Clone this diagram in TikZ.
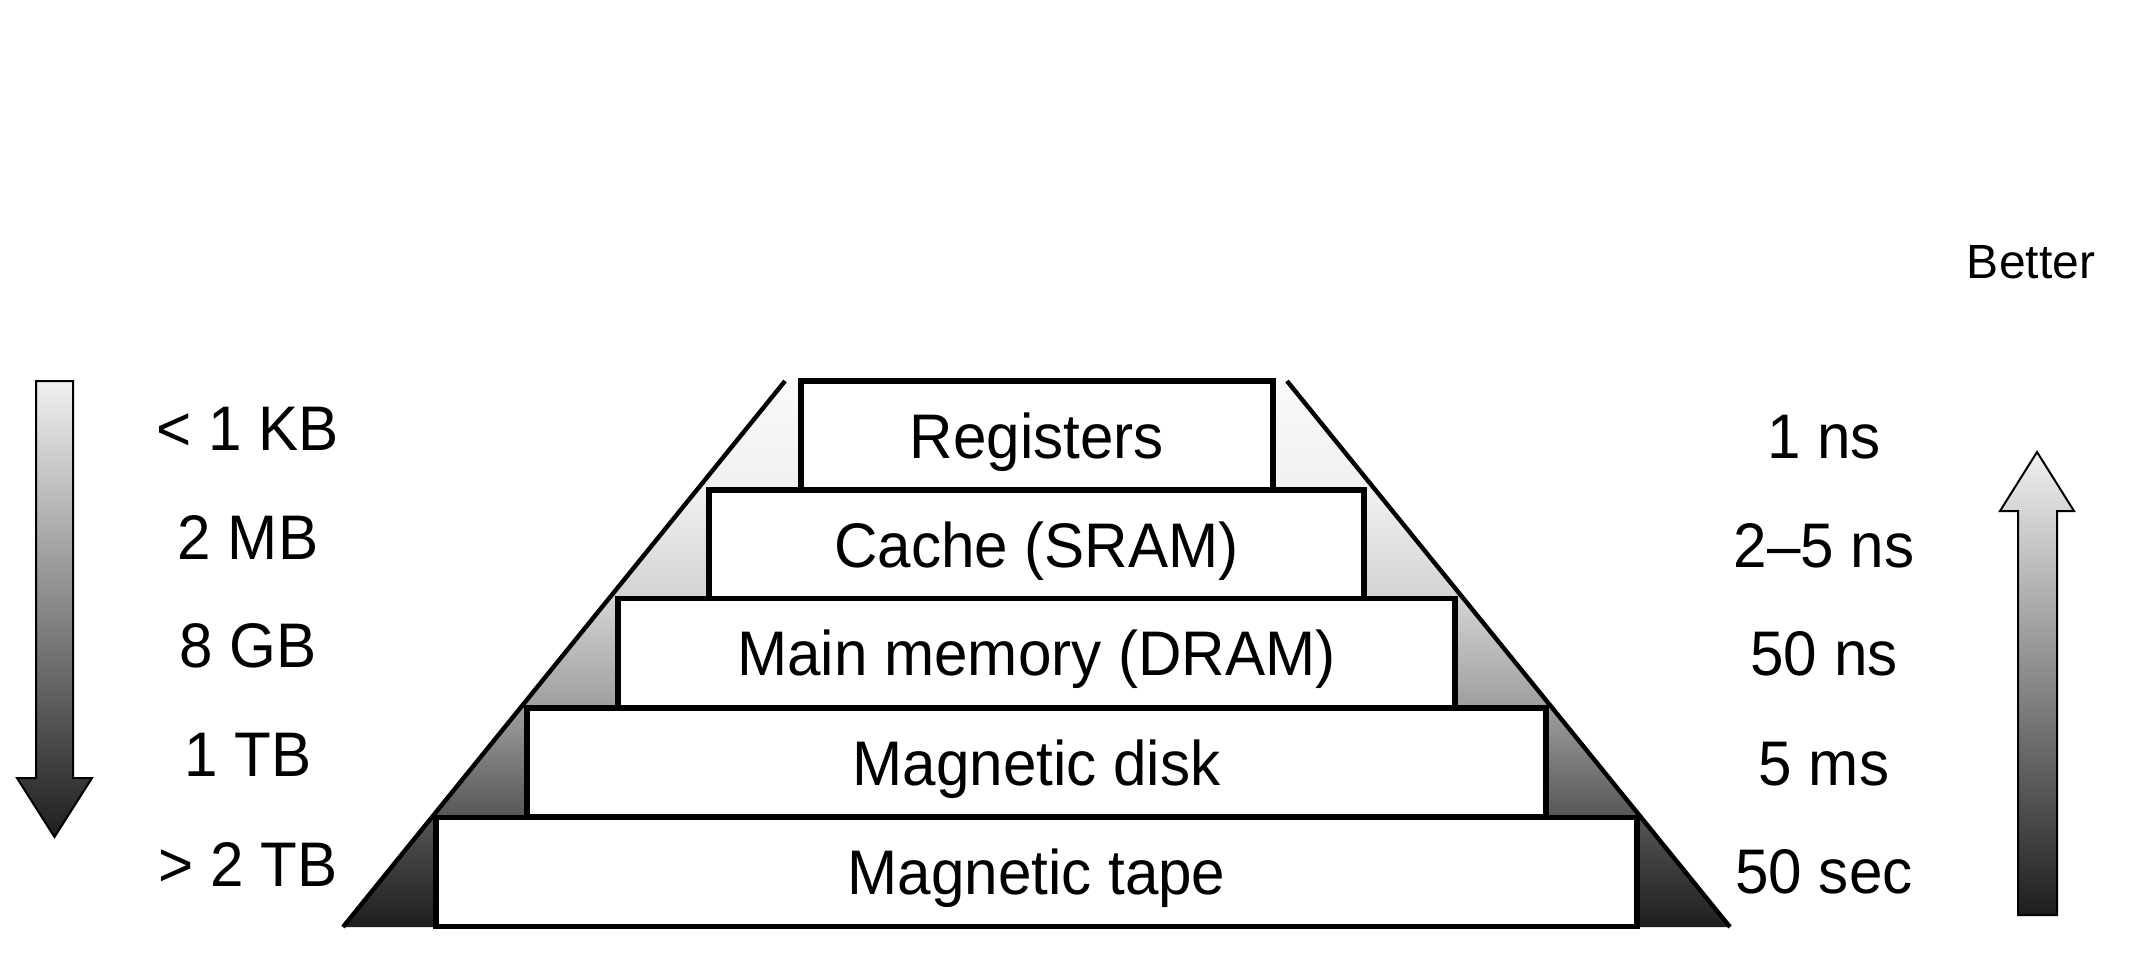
\documentclass[tikz,border=0pt]{standalone}
\usepackage{fontspec}
\setmainfont{Liberation Sans}[FakeStretch=0.955]
\newfontfamily\plainsans{Liberation Sans}
\definecolor{s0}{RGB}{250,250,250}
\definecolor{s20}{RGB}{240,240,240}
\definecolor{s40}{RGB}{210,210,210}
\definecolor{s60}{RGB}{158,158,158}
\definecolor{s80}{RGB}{85,85,85}
\definecolor{s100}{RGB}{30,30,30}
\definecolor{arTop}{RGB}{240,240,240}
\definecolor{arBot}{RGB}{30,30,30}
\pgfdeclareverticalshading{trapshade}{100bp}{color(0bp)=(s100); color(25bp)=(s100); color(35bp)=(s80); color(45bp)=(s60); color(55bp)=(s40); color(65bp)=(s20); color(75bp)=(s0); color(100bp)=(s0)}
\tikzset{
  tier/.style={draw=black, line width=2.7pt, fill=white, inner sep=0pt,
    font=\fontsize{31.5}{36}\selectfont, text height=22.6pt, text depth=0pt,
    minimum height=54.5pt},
  lbl/.style={font=\fontsize{31.5}{36}\selectfont, anchor=base, inner sep=0pt},
  bigarrow/.style={draw=black, line width=1pt, top color=arTop, bottom color=arBot},
  slant/.style={draw=black, line width=2.2pt}
}
\begin{document}
\begin{tikzpicture}[x=0.5pt, y=-0.5pt]
\useasboundingbox (0,0) rectangle (2146,970);
% trapezoid corners
\coordinate (bl) at (343,927);
\coordinate (tl) at (785,381);
\coordinate (tr) at (1287,381);
\coordinate (br) at (1730,927);
\path[shading=trapshade] (bl) -- (tl) -- (tr) -- (br) -- cycle;
\draw[slant] (bl) -- (tl);
\draw[slant] (br) -- (tr);
% tiers
\node[tier, minimum width=236pt]   (reg)   at (1037,435.5) {Registers};
\node[tier, minimum width=327.5pt] (cache) at (1036.5,544.5) {Cache (SRAM)};
\node[tier, minimum width=418.5pt] (dram)  at (1036.5,653) {Main memory (DRAM)};
\node[tier, minimum width=509.5pt] (disk)  at (1036.5,762.5) {Magnetic disk};
\node[tier, minimum width=600.5pt] (tape)  at (1036.5,872) {Magnetic tape};
% left arrow (size)
\path[bigarrow] (36,381) -- (73,381) -- (73,778) -- (92,778) -- (54.5,837) -- (17,778) -- (36,778) -- cycle;
% right arrow (speed)
\path[bigarrow] (2037,452) -- (2074,511) -- (2057,511) -- (2057,915) -- (2018,915) -- (2018,511) -- (2000,511) -- cycle;
% size labels
\node[lbl] (s1) at (248,450) {< 1 KB};
\node[lbl] (s2) at (248,559) {2 MB};
\node[lbl] (s3) at (248,667) {8 GB};
\node[lbl] (s4) at (248,776) {1 TB};
\node[lbl] (s5) at (248,886) {> 2 TB};
% time labels
\node[lbl] (t1) at (1824,458) {1 ns};
\node[lbl] (t2) at (1824,567) {2–5 ns};
\node[lbl] (t3) at (1824,675) {50 ns};
\node[lbl] (t4) at (1824,785) {5 ms};
\node[lbl] (t5) at (1824,893) {50 sec};
\node[font=\plainsans\fontsize{24}{28}\selectfont, anchor=base, inner sep=0pt] (better) at (2031,278) {Better};
\end{tikzpicture}
\end{document}
